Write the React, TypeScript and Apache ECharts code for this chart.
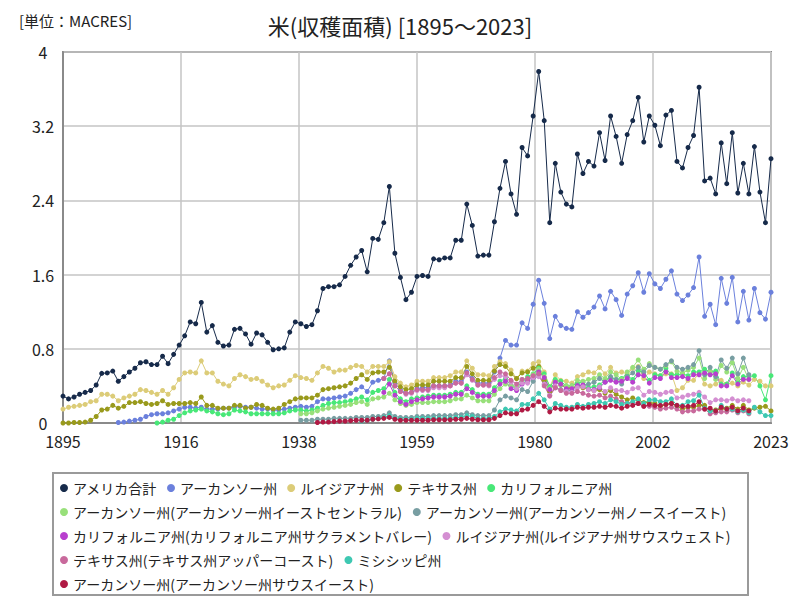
import React, { useEffect, useRef } from "react";
import * as echarts from "echarts";

const FIRST_YEAR = 1895;
const LAST_YEAR = 2023;
const X_TICK_LABELS = ["1895", "1916", "1938", "1959", "1980", "2002", "2023"];
const Y_MIN = 0;
const Y_MAX = 4;
const Y_STEP = 0.8;

const TITLE = "米(収穫面積) [1895～2023]";
const UNIT = "[単位：MACRES]";

// アメリカ合計 1895-2023
const usTotal = [
  0.29, 0.26, 0.28, 0.31, 0.33,
  0.35, 0.41, 0.535, 0.54, 0.56, 0.45, 0.5, 0.55, 0.59, 0.65,
  0.66, 0.63, 0.63, 0.72, 0.64, 0.74, 0.84, 0.94, 1.09, 1.07,
  1.3, 0.98, 1.05, 0.87, 0.83, 0.84, 1.01, 1.02, 0.96, 0.85,
  0.97, 0.95, 0.87, 0.79, 0.8, 0.81, 0.98, 1.09, 1.07, 1.04,
  1.06, 1.21, 1.45, 1.47, 1.47, 1.49, 1.58, 1.7, 1.79, 1.86,
  1.63, 1.99, 1.98, 2.16, 2.55, 1.83, 1.57, 1.33, 1.41, 1.58,
  1.59, 1.58, 1.77, 1.76, 1.78, 1.78, 1.97, 1.97, 2.36, 2.13,
  1.8, 1.81, 1.81, 2.17, 2.53, 2.82, 2.47, 2.25, 2.97, 2.88,
  3.31, 3.79, 3.26, 2.16, 2.8, 2.49, 2.36, 2.33, 2.9, 2.69,
  2.82, 2.77, 3.13, 2.83, 3.31, 3.09, 2.8, 3.11, 3.26, 3.51,
  3.03, 3.31, 3.21, 2.99, 3.32, 3.37, 2.82, 2.75, 2.97, 3.1,
  3.62, 2.61, 2.64, 2.47, 3.02, 2.58, 3.13, 2.48, 2.8, 2.47,
  2.98, 2.49, 2.16, 2.85,
];

// アーカンソー州 1905-2023
const arkansas = [
  0.005, 0.01, 0.02, 0.03, 0.04,
  0.07, 0.09, 0.1, 0.1, 0.11, 0.13, 0.15, 0.17, 0.17, 0.16,
  0.17, 0.15, 0.15, 0.15, 0.16, 0.16, 0.17, 0.18, 0.17, 0.17,
  0.16, 0.15, 0.15, 0.14, 0.14, 0.15, 0.16, 0.17, 0.18, 0.17,
  0.18, 0.23, 0.26, 0.26, 0.27, 0.28, 0.29, 0.32, 0.36, 0.39,
  0.34, 0.44, 0.46, 0.48, 0.67, 0.43, 0.36, 0.32, 0.33, 0.37,
  0.38, 0.38, 0.4, 0.4, 0.4, 0.41, 0.45, 0.45, 0.55, 0.48,
  0.43, 0.43, 0.43, 0.55, 0.7, 0.89, 0.84, 0.84, 1.08, 1.02,
  1.28, 1.54, 1.29, 0.91, 1.15, 1.05, 1.02, 1.01, 1.2, 1.14,
  1.19, 1.25, 1.37, 1.23, 1.42, 1.33, 1.16, 1.39, 1.48, 1.62,
  1.41, 1.61, 1.5, 1.45, 1.55, 1.64, 1.39, 1.32, 1.38, 1.46,
  1.79, 1.15, 1.28, 1.06, 1.56, 1.29, 1.57, 1.09, 1.42, 1.11,
  1.45, 1.19, 1.12, 1.41,
];

// ルイジアナ州 1895-2023
const louisiana = [
  0.15, 0.17, 0.18, 0.19, 0.2,
  0.23, 0.24, 0.31, 0.31, 0.29, 0.24, 0.27, 0.29, 0.31, 0.36,
  0.35, 0.33, 0.31, 0.35, 0.31, 0.38, 0.47, 0.54, 0.55, 0.54,
  0.67, 0.54, 0.54, 0.45, 0.42, 0.4, 0.48, 0.52, 0.5, 0.47,
  0.48, 0.45, 0.41, 0.38, 0.4, 0.41, 0.46, 0.51, 0.49, 0.48,
  0.46, 0.54, 0.61, 0.59, 0.55, 0.57, 0.57, 0.6, 0.62, 0.61,
  0.55, 0.61, 0.61, 0.61, 0.66, 0.5, 0.43, 0.39, 0.41, 0.45,
  0.45, 0.45, 0.49, 0.49, 0.49, 0.51, 0.55, 0.55, 0.67, 0.59,
  0.52, 0.52, 0.51, 0.61, 0.66, 0.64, 0.57, 0.48, 0.56, 0.56,
  0.64, 0.66, 0.55, 0.39, 0.52, 0.46, 0.45, 0.43, 0.5, 0.52,
  0.55, 0.54, 0.6, 0.53, 0.6, 0.54, 0.55, 0.53, 0.59, 0.61,
  0.48, 0.55, 0.53, 0.51, 0.53, 0.53, 0.35, 0.38, 0.46, 0.46,
  0.54, 0.42, 0.4, 0.42, 0.46, 0.42, 0.43, 0.4, 0.44, 0.41,
  0.47, 0.45, 0.4, 0.4,
];

// テキサス州 1895-2023
const texas = [
  0.0, 0.0, 0.005, 0.005, 0.01,
  0.03, 0.07, 0.14, 0.15, 0.19, 0.16, 0.18, 0.22, 0.22, 0.23,
  0.21, 0.2, 0.21, 0.24, 0.2, 0.21, 0.21, 0.21, 0.22, 0.21,
  0.28, 0.19, 0.19, 0.16, 0.16, 0.16, 0.19, 0.19, 0.16, 0.17,
  0.2, 0.19, 0.16, 0.15, 0.16, 0.2, 0.23, 0.26, 0.27, 0.27,
  0.27, 0.3, 0.36, 0.37, 0.38, 0.39, 0.4, 0.43, 0.48, 0.52,
  0.47, 0.54, 0.55, 0.55, 0.6, 0.45, 0.39, 0.36, 0.37, 0.41,
  0.41, 0.41, 0.45, 0.45, 0.45, 0.45, 0.49, 0.49, 0.61, 0.53,
  0.46, 0.46, 0.46, 0.56, 0.63, 0.61, 0.53, 0.48, 0.54, 0.55,
  0.59, 0.61, 0.46, 0.34, 0.45, 0.41, 0.38, 0.38, 0.4, 0.38,
  0.36, 0.35, 0.36, 0.32, 0.35, 0.31, 0.28, 0.25, 0.27, 0.25,
  0.22, 0.22, 0.21, 0.18, 0.2, 0.21, 0.18, 0.15, 0.17, 0.17,
  0.19, 0.19, 0.13, 0.14, 0.15, 0.16, 0.19, 0.15, 0.19, 0.14,
  0.16, 0.17, 0.18, 0.13,
];

// カリフォルニア州 1912-2023
const california = [
  0.0, 0.01, 0.03, 0.04, 0.08, 0.11, 0.13, 0.14,
  0.15, 0.13, 0.12, 0.1, 0.09, 0.1, 0.14, 0.13, 0.12, 0.1,
  0.1, 0.1, 0.1, 0.1, 0.1, 0.11, 0.13, 0.14, 0.14, 0.13,
  0.14, 0.16, 0.19, 0.21, 0.22, 0.22, 0.23, 0.24, 0.26, 0.28,
  0.25, 0.33, 0.35, 0.37, 0.47, 0.33, 0.26, 0.23, 0.26, 0.27,
  0.28, 0.29, 0.3, 0.3, 0.3, 0.31, 0.33, 0.33, 0.4, 0.36,
  0.31, 0.31, 0.31, 0.38, 0.45, 0.48, 0.4, 0.37, 0.45, 0.5,
  0.53, 0.59, 0.53, 0.39, 0.47, 0.45, 0.4, 0.4, 0.43, 0.44,
  0.38, 0.39, 0.41, 0.47, 0.49, 0.47, 0.48, 0.51, 0.47, 0.56,
  0.55, 0.46, 0.52, 0.51, 0.59, 0.52, 0.52, 0.53, 0.51, 0.55,
  0.55, 0.58, 0.55, 0.56, 0.42, 0.42, 0.54, 0.44, 0.5, 0.5,
  0.51, 0.4, 0.25, 0.51,
];

// アーカンソー州(アーカンソー州イーストセントラル) 1938-2019
const arEastCentral = [
  0.1, 0.1,
  0.11, 0.13, 0.15, 0.16, 0.17, 0.18, 0.19, 0.2, 0.22, 0.23,
  0.2, 0.26, 0.27, 0.28, 0.32, 0.25, 0.21, 0.19, 0.2, 0.22,
  0.22, 0.22, 0.23, 0.23, 0.23, 0.24, 0.26, 0.26, 0.3, 0.27,
  0.24, 0.24, 0.24, 0.31, 0.37, 0.42, 0.4, 0.39, 0.47, 0.45,
  0.52, 0.58, 0.5, 0.37, 0.44, 0.41, 0.4, 0.4, 0.46, 0.45,
  0.47, 0.48, 0.52, 0.48, 0.55, 0.52, 0.47, 0.55, 0.6, 0.68,
  0.58, 0.64, 0.6, 0.58, 0.62, 0.66, 0.56, 0.54, 0.57, 0.6,
  0.7, 0.48, 0.56, 0.47, 0.62, 0.55, 0.65, 0.48, 0.6, 0.47,
];

// アーカンソー州(アーカンソー州ノースイースト) 1938-2019
const arNortheast = [
  0.03, 0.03,
  0.03, 0.04, 0.04, 0.04, 0.05, 0.05, 0.05, 0.05, 0.06, 0.06,
  0.06, 0.07, 0.07, 0.08, 0.11, 0.07, 0.06, 0.06, 0.06, 0.07,
  0.07, 0.07, 0.08, 0.08, 0.08, 0.08, 0.09, 0.09, 0.11, 0.09,
  0.08, 0.08, 0.08, 0.14, 0.25, 0.29, 0.27, 0.25, 0.36, 0.34,
  0.45, 0.52, 0.42, 0.3, 0.38, 0.36, 0.35, 0.35, 0.41, 0.4,
  0.42, 0.44, 0.48, 0.44, 0.5, 0.47, 0.42, 0.5, 0.54, 0.6,
  0.55, 0.62, 0.6, 0.58, 0.63, 0.67, 0.6, 0.58, 0.6, 0.63,
  0.78, 0.52, 0.6, 0.5, 0.68, 0.59, 0.7, 0.53, 0.7, 0.52,
];

// カリフォルニア州(カリフォルニア州サクラメントバレー) 1953-2019
const caSacramento = [
  0.33, 0.42, 0.3, 0.23, 0.2, 0.23, 0.25,
  0.26, 0.27, 0.28, 0.28, 0.28, 0.29, 0.31, 0.31, 0.37, 0.33,
  0.29, 0.29, 0.29, 0.35, 0.42, 0.45, 0.37, 0.35, 0.42, 0.46,
  0.49, 0.55, 0.49, 0.36, 0.44, 0.42, 0.37, 0.37, 0.4, 0.41,
  0.36, 0.36, 0.38, 0.44, 0.46, 0.44, 0.45, 0.48, 0.44, 0.52,
  0.51, 0.43, 0.49, 0.48, 0.55, 0.49, 0.49, 0.5, 0.48, 0.52,
  0.52, 0.54, 0.52, 0.53, 0.4, 0.4, 0.51, 0.42, 0.47, 0.47,
];

// ルイジアナ州(ルイジアナ州サウスウェスト) 1953-2019
const laSouthwest = [
  0.48, 0.53, 0.4, 0.34, 0.31, 0.32, 0.35,
  0.35, 0.35, 0.38, 0.38, 0.38, 0.4, 0.43, 0.43, 0.52, 0.46,
  0.41, 0.41, 0.4, 0.47, 0.51, 0.5, 0.44, 0.37, 0.43, 0.43,
  0.49, 0.5, 0.42, 0.3, 0.4, 0.35, 0.34, 0.33, 0.38, 0.39,
  0.36, 0.35, 0.39, 0.34, 0.38, 0.35, 0.35, 0.33, 0.37, 0.38,
  0.3, 0.34, 0.33, 0.31, 0.33, 0.34, 0.27, 0.28, 0.3, 0.31,
  0.33, 0.28, 0.22, 0.25, 0.25, 0.24, 0.26, 0.24, 0.25, 0.24,
];

// テキサス州(テキサス州アッパーコースト) 1953-2019
const txUpperCoast = [
  0.48, 0.53, 0.4, 0.34, 0.32, 0.33, 0.36,
  0.36, 0.36, 0.4, 0.4, 0.4, 0.4, 0.43, 0.43, 0.54, 0.47,
  0.41, 0.41, 0.41, 0.49, 0.55, 0.53, 0.46, 0.42, 0.47, 0.48,
  0.51, 0.53, 0.4, 0.29, 0.38, 0.35, 0.32, 0.32, 0.34, 0.32,
  0.3, 0.29, 0.3, 0.27, 0.29, 0.26, 0.23, 0.21, 0.22, 0.21,
  0.18, 0.18, 0.17, 0.15, 0.16, 0.17, 0.15, 0.12, 0.13, 0.13,
  0.15, 0.15, 0.1, 0.11, 0.12, 0.12, 0.14, 0.11, 0.13, 0.1,
];

// ミシシッピ州 1949-2023
const mississippi = [
  0.02,
  0.03, 0.04, 0.05, 0.06, 0.08, 0.05, 0.04, 0.04, 0.04, 0.05,
  0.05, 0.05, 0.05, 0.05, 0.05, 0.05, 0.06, 0.06, 0.08, 0.07,
  0.05, 0.05, 0.05, 0.07, 0.12, 0.15, 0.14, 0.13, 0.2, 0.2,
  0.26, 0.32, 0.25, 0.15, 0.21, 0.19, 0.17, 0.17, 0.2, 0.18,
  0.2, 0.21, 0.23, 0.21, 0.25, 0.23, 0.2, 0.21, 0.23, 0.26,
  0.21, 0.25, 0.25, 0.23, 0.23, 0.26, 0.19, 0.19, 0.23, 0.24,
  0.3, 0.16, 0.13, 0.13, 0.19, 0.15, 0.15, 0.12, 0.14, 0.11,
  0.17, 0.12, 0.08, 0.08,
];

// アーカンソー州(アーカンソー州サウスイースト) 1941-2019
const arSoutheast = [
  0.005, 0.01, 0.01, 0.015, 0.02, 0.02, 0.025, 0.03, 0.03,
  0.03, 0.04, 0.045, 0.05, 0.06, 0.04, 0.03, 0.03, 0.03, 0.03,
  0.03, 0.03, 0.035, 0.035, 0.035, 0.035, 0.04, 0.04, 0.05, 0.04,
  0.035, 0.035, 0.035, 0.05, 0.08, 0.11, 0.1, 0.1, 0.14, 0.15,
  0.19, 0.23, 0.18, 0.12, 0.16, 0.15, 0.15, 0.15, 0.17, 0.16,
  0.17, 0.17, 0.18, 0.17, 0.19, 0.18, 0.16, 0.18, 0.19, 0.21,
  0.18, 0.2, 0.19, 0.19, 0.2, 0.21, 0.19, 0.18, 0.18, 0.19,
  0.23, 0.15, 0.16, 0.13, 0.17, 0.15, 0.17, 0.13, 0.16, 0.13,
];

const SERIES_DEFS = [
  { name: "アメリカ合計", color: "#162a4a", start: 1895, values: usTotal },
  { name: "アーカンソー州", color: "#6b80dc", start: 1905, values: arkansas },
  { name: "ルイジアナ州", color: "#dccc78", start: 1895, values: louisiana },
  { name: "テキサス州", color: "#999a1c", start: 1895, values: texas },
  { name: "カリフォルニア州", color: "#48e878", start: 1912, values: california },
  { name: "アーカンソー州(アーカンソー州イーストセントラル)", color: "#98e07a", start: 1938, values: arEastCentral },
  { name: "アーカンソー州(アーカンソー州ノースイースト)", color: "#789ea2", start: 1938, values: arNortheast },
  { name: "カリフォルニア州(カリフォルニア州サクラメントバレー)", color: "#b83fce", start: 1953, values: caSacramento },
  { name: "ルイジアナ州(ルイジアナ州サウスウェスト)", color: "#d48fd2", start: 1953, values: laSouthwest },
  { name: "テキサス州(テキサス州アッパーコースト)", color: "#c8699c", start: 1953, values: txUpperCoast },
  { name: "ミシシッピ州", color: "#3ec8b2", start: 1949, values: mississippi },
  { name: "アーカンソー州(アーカンソー州サウスイースト)", color: "#b01a44", start: 1941, values: arSoutheast },
];

const FONT = "'Noto Sans CJK JP', 'Noto Sans', sans-serif";

export default function App() {
  const ref = useRef<HTMLDivElement>(null);

  useEffect(() => {
    if (!ref.current) return;
    const chart = echarts.init(ref.current, undefined, { renderer: "svg" });
    const span = LAST_YEAR - FIRST_YEAR;
    const xStep = span / (X_TICK_LABELS.length - 1);

    const series = SERIES_DEFS.map((s) => ({
      name: s.name,
      type: "line",
      data: s.values.map((v, i) => [s.start + i - FIRST_YEAR, v]),
      symbol: "circle",
      symbolSize: 5,
      showSymbol: true,
      lineStyle: { width: 1, color: s.color },
      itemStyle: { color: s.color },
      emphasis: { disabled: true },
    }));

    chart.setOption({
      animation: false,
      textStyle: { fontFamily: FONT },
      title: [
        {
          text: TITLE,
          left: "center",
          top: 9,
          textStyle: { fontSize: 22, fontWeight: "normal", color: "#222", fontFamily: FONT },
        },
        {
          text: UNIT,
          left: 14,
          top: 8,
          textStyle: { fontSize: 15, fontWeight: "normal", color: "#222", fontFamily: FONT },
        },
      ],
      grid: {
        left: 63,
        right: 29,
        top: 52,
        bottom: 177,
        show: true,
        borderColor: "#8a8a8a",
        borderWidth: 2,
        backgroundColor: "transparent",
      },
      xAxis: {
        type: "value",
        min: 0,
        max: span,
        interval: xStep,
        axisLine: { show: true, lineStyle: { color: "#8a8a8a", width: 2 } },
        axisTick: { show: false },
        splitLine: { show: true, lineStyle: { color: "#c4c4c4", width: 1.5 } },
        axisLabel: {
          fontSize: 16,
          color: "#222",
          margin: 10,
          fontFamily: FONT,
          formatter: (v: number) => X_TICK_LABELS[Math.round(v / xStep)] ?? "",
        },
      },
      yAxis: {
        type: "value",
        min: Y_MIN,
        max: Y_MAX,
        interval: Y_STEP,
        axisLine: { show: true, lineStyle: { color: "#8a8a8a", width: 2 } },
        axisTick: { show: false },
        splitLine: { show: true, lineStyle: { color: "#c4c4c4", width: 1.5 } },
        axisLabel: {
          fontSize: 16,
          color: "#222",
          align: "center",
          margin: 20,
          fontFamily: FONT,
        },
      },
      legend: {
        data: SERIES_DEFS.map((s) => s.name),
        left: 60,
        top: 481,
        width: 675,
        padding: 0,
        itemGap: 10,
        itemWidth: 8,
        itemHeight: 8,
        icon: "circle",
        textStyle: { fontSize: 14, color: "#222", lineHeight: 12, fontFamily: FONT },
      },
      graphic: [
        {
          type: "rect",
          shape: { x: 53, y: 473, width: 695, height: 122 },
          style: { fill: "none", stroke: "#9a9a9a", lineWidth: 2 },
          silent: true,
        },
      ],
      series,
    });

    return () => chart.dispose();
  }, []);

  return (
    <div
      ref={ref}
      style={{ position: "absolute", left: 0, top: 0, width: 800, height: 600, background: "#fff" }}
    />
  );
}
